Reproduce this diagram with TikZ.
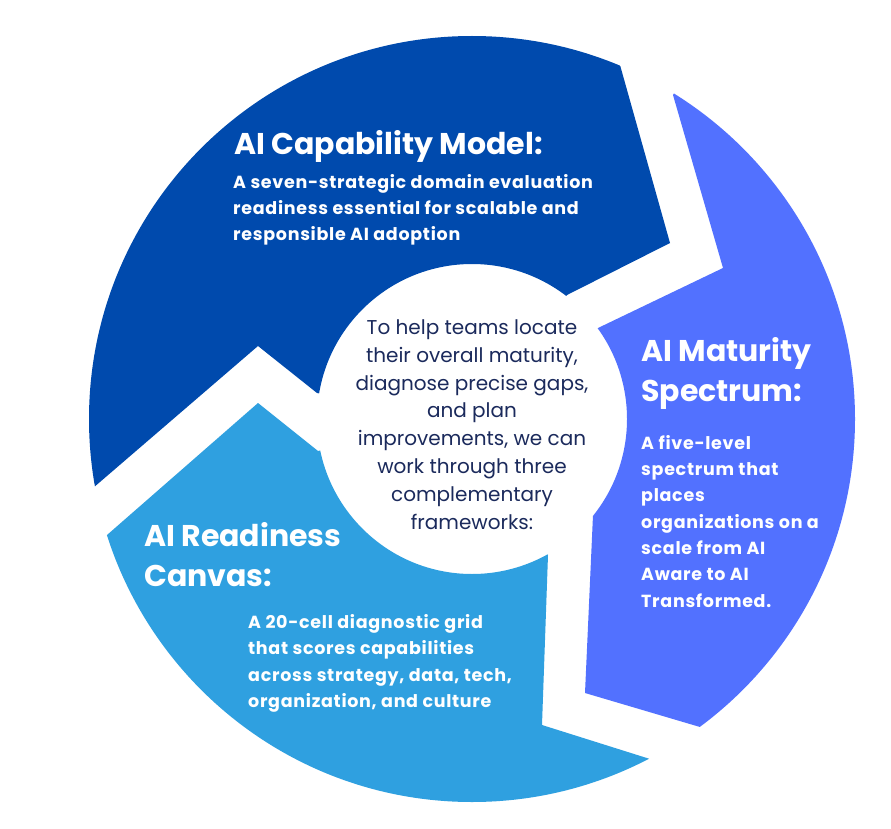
\documentclass[tikz,border=0pt]{standalone}
\usepackage{fontspec}
\setmainfont{Poppins}
\newfontfamily\bodyfont[LetterSpace=4.0]{Poppins}
\usetikzlibrary{calc}
\definecolor{capblue}{RGB}{0,74,173}
\definecolor{matpurple}{RGB}{82,113,255}
\definecolor{readblue}{RGB}{47,160,224}
\definecolor{navytext}{RGB}{27,42,92}
\newcommand\segfill[1]{\fill[#1,even odd rule] (C) circle[radius=383] (C) circle[radius=155];}
\begin{document}
\begin{tikzpicture}[x=1pt,y=-1pt,
  titletext/.style={text=white, font=\bfseries\fontsize{30}{40}\selectfont, align=left, anchor=base west, inner sep=0pt},
  bodytext/.style={text=white, font=\bodyfont\bfseries\fontsize{17.5}{26.3}\selectfont, align=left, anchor=base west, inner sep=0pt},
  centretext/.style={text=navytext, font=\fontsize{20}{27.8}\selectfont, align=center, anchor=base, inner sep=0pt}]
\useasboundingbox (0,0) rectangle (891,829);
\fill[white] (0,0) rectangle (891,829);
\coordinate (C) at (472,419);
% AI Capability Model segment
\begin{scope}
\clip (C) -- (567,295) -- (670,243) -- (620,65) -- ($(C)+(292.7:600)$) -- ($(C)+(231:600)$) -- ($(C)+(169.7:600)$) -- (93,488) -- (258,346) -- (317,393) -- cycle;
\segfill{capblue}
\end{scope}
% AI Maturity Spectrum segment
\begin{scope}
\clip (C) -- (593,515) -- (585,693) -- (700,727) -- ($(C)+(53.5:600)$) -- ($(C)+(0:600)$) -- ($(C)+(-58.2:600)$) -- (673,95) -- (723,268) -- (598,328) -- cycle;
\segfill{matpurple}
\end{scope}
% AI Readiness Canvas segment
\begin{scope}
\clip (C) -- (548,555) -- (542,725) -- (650,759) -- ($(C)+(62.4:600)$) -- ($(C)+(112.4:600)$) -- ($(C)+(162.4:600)$) -- (107,535) -- (258,403) -- (318,451) -- cycle;
\segfill{readblue}
\end{scope}
% texts (multi-line nodes: base anchor = baseline of last line)
\node[titletext] (captitle) at (234,155) {AI Capability Model:};
\node[bodytext] (capbody) at (233,240.7) {A seven-strategic domain evaluation\\readiness essential for scalable and\\responsible AI adoption};
\node[titletext] (mattitle) at (641,401.7) {AI Maturity\\Spectrum:};
\node[bodytext] (matbody) at (641,607) {A five-level\\spectrum that\\places\\organizations on a\\scale from AI\\Aware to AI\\Transformed.};
\node[titletext] (readtitle) at (144,586.7) {AI Readiness\\Canvas:};
\node[bodytext] (readbody) at (248,707.3) {A 20-cell diagnostic grid\\that scores capabilities\\across strategy, data, tech,\\organization, and culture};
\node[centretext] (intro) at (472,529) {To help teams locate\\their overall maturity,\\diagnose precise gaps,\\and plan\\improvements, we can\\work through three\\complementary\\frameworks:};
\end{tikzpicture}
\end{document}
